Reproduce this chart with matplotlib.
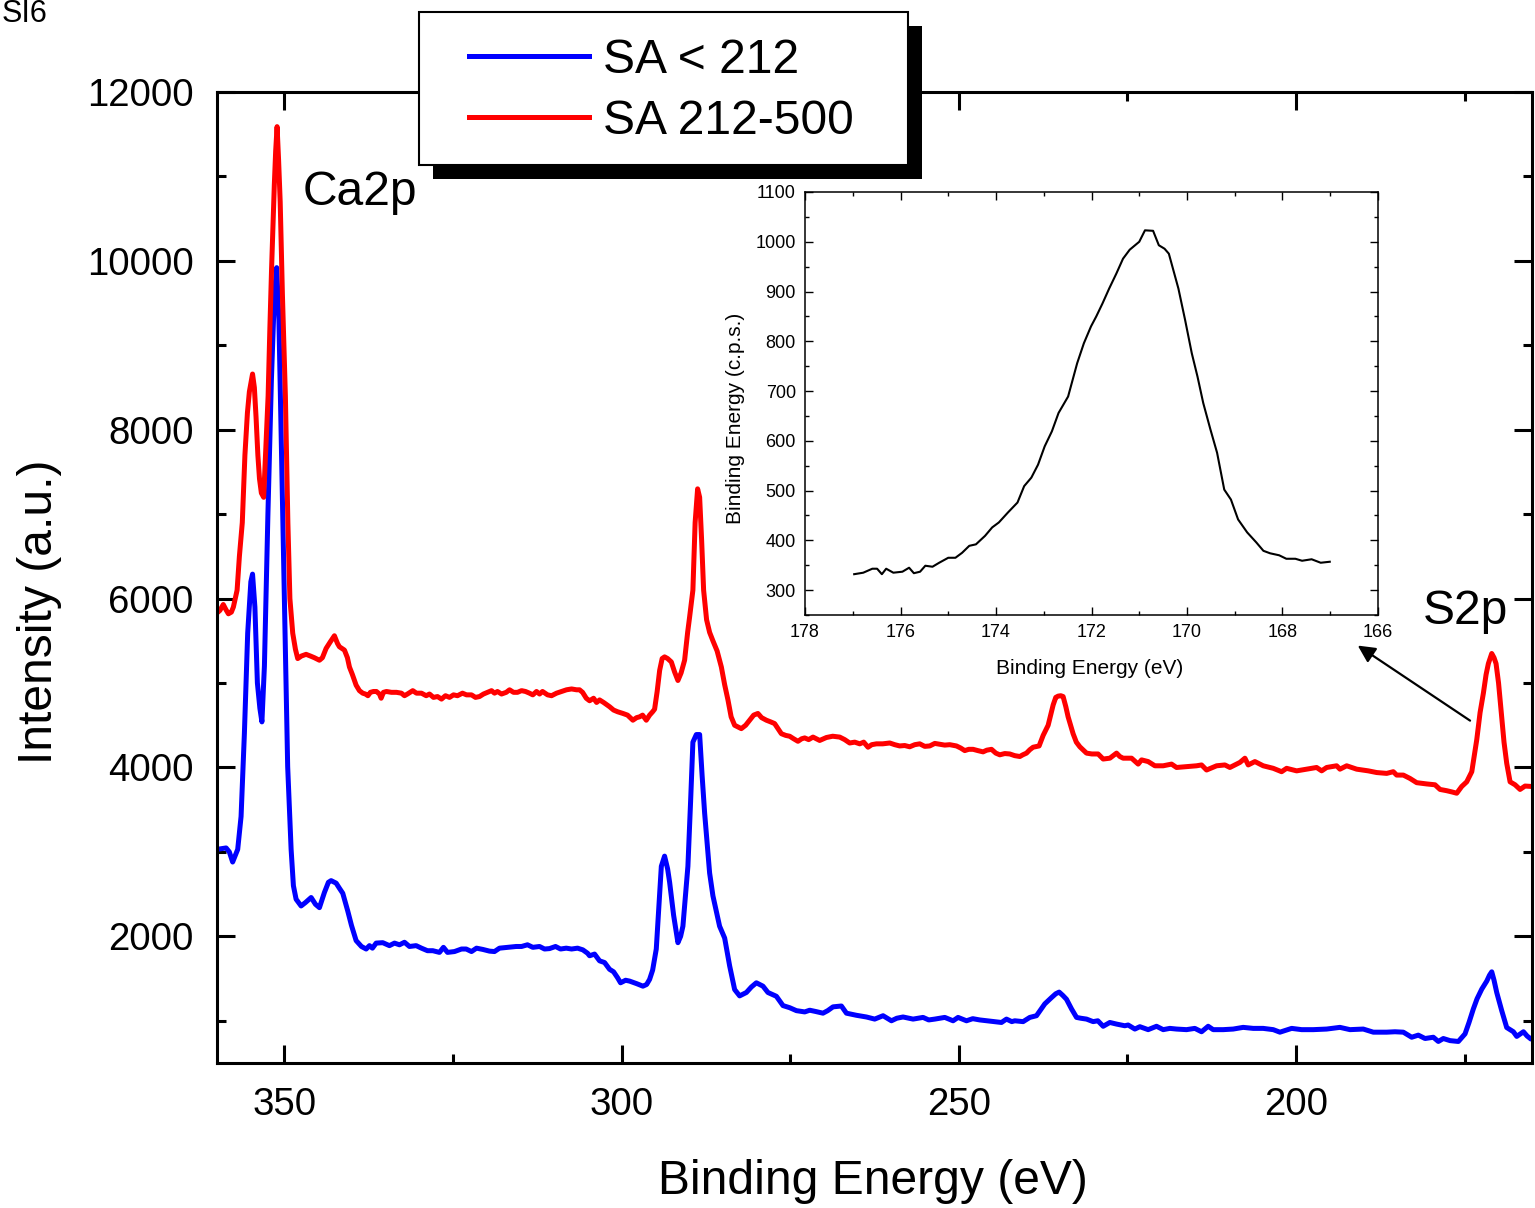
import matplotlib
matplotlib.use("Agg")
import matplotlib.pyplot as plt
from matplotlib.patches import Rectangle
from matplotlib.ticker import MultipleLocator

plt.rcParams['font.family'] = ['Liberation Sans', 'DejaVu Sans']

# ---- survey spectra: binding energy (eV) and intensity (a.u.) ----
energy_low = [
    360.0, 358.65, 358.17, 357.68, 356.93, 356.43, 355.94, 355.45, 354.98, 354.73,
    354.38, 354.01, 353.64, 353.34, 352.97, 352.45, 351.93, 351.49, 351.15, 350.82,
    350.45, 350.0, 349.52, 349.01, 348.67, 348.27, 347.53, 346.89, 346.04, 345.40,
    344.81, 344.07, 343.48, 343.08, 342.33, 341.85, 341.35, 340.61, 340.06, 339.37,
    338.58, 337.88, 337.39, 336.95, 336.40, 335.42, 334.43, 333.68, 332.94, 332.20,
    331.46, 330.47, 329.68, 328.79, 328.0, 327.01, 326.42, 325.82, 324.78, 323.74,
    323.05, 322.26, 321.52, 320.58, 319.59, 318.85, 318.11, 316.92, 315.63, 314.84,
    313.96, 313.17, 312.17, 311.43, 310.69, 309.80, 309.06, 308.21, 307.42, 306.53,
    305.75, 305.05, 304.75, 304.01, 303.27, 302.53, 301.79, 301.19, 300.60, 300.16,
    299.41, 298.82, 297.78, 296.84, 296.29, 295.85, 295.40, 294.86, 294.51, 294.11,
    293.63, 293.18, 292.88, 292.29, 291.65, 291.25, 290.91, 290.51, 290.17, 289.77,
    289.43, 288.92, 288.43, 288.06, 287.69, 286.95, 286.46, 285.47, 284.72, 283.98,
    283.24, 282.50, 281.50, 280.76, 280.02, 279.04, 278.30, 277.05, 276.07, 275.08,
    274.08, 272.85, 272.11, 271.22, 270.14, 269.44, 268.65, 267.41, 266.66, 265.18,
    263.70, 262.47, 261.23, 259.99, 259.20, 258.27, 256.78, 255.30, 254.46, 253.56,
    252.08, 250.85, 250.11, 248.86, 247.93, 246.89, 245.85, 244.91, 243.67, 242.93,
    242.14, 241.70, 240.46, 239.47, 238.48, 237.25, 236.25, 235.62, 235.12, 234.57,
    234.03, 233.28, 232.54, 231.90, 231.06, 230.08, 229.38, 228.59, 227.60, 226.61,
    225.38, 224.89, 223.89, 223.15, 221.92, 220.68, 219.69, 218.70, 217.71, 216.23,
    215.0, 214.0, 213.02, 212.28, 210.79, 209.31, 207.83, 206.34, 204.86, 203.37,
    202.38, 200.64, 199.16, 197.44, 195.45, 193.48, 191.99, 190.02, 188.53, 186.55,
    185.32, 184.08, 182.84, 181.86, 180.86, 179.63, 178.89, 178.15, 177.15, 175.92,
    174.93, 174.34, 173.70, 173.15, 172.45, 171.71, 171.30, 170.97, 170.63, 170.23,
    169.49, 168.75, 167.76, 167.26, 166.27, 165.73, 165.18, 164.99,
]
intensity_low = [
    3030, 3047, 3000, 2880, 3030, 3420, 4400, 5590, 6200, 6290,
    5900, 5000, 4700, 4540, 5200, 7000, 8600, 9600, 9920, 9300,
    7800, 5980, 4010, 3030, 2600, 2440, 2360, 2400, 2460, 2380,
    2340, 2520, 2640, 2660, 2630, 2570, 2510, 2300, 2130, 1950,
    1880, 1850, 1890, 1860, 1920, 1925, 1890, 1920, 1900, 1930,
    1880, 1890, 1860, 1830, 1830, 1810, 1870, 1810, 1820, 1850,
    1850, 1820, 1860, 1845, 1825, 1820, 1860, 1870, 1880, 1880,
    1900, 1870, 1880, 1850, 1855, 1880, 1850, 1860, 1850, 1860,
    1840, 1800, 1770, 1790, 1710, 1690, 1610, 1580, 1510, 1450,
    1480, 1470, 1440, 1410, 1430, 1490, 1600, 1850, 2300, 2830,
    2950, 2800, 2640, 2250, 1925, 2000, 2120, 2500, 2830, 3600,
    4300, 4390, 4390, 3900, 3460, 2750, 2480, 2120, 1980, 1650,
    1370, 1295, 1335, 1400, 1450, 1410, 1335, 1290, 1180, 1155,
    1120, 1105, 1125, 1110, 1090, 1120, 1165, 1175, 1090, 1065,
    1045, 1020, 1060, 1000, 1030, 1045, 1020, 1040, 1010, 1020,
    1040, 1000, 1040, 1000, 1025, 1010, 1000, 990, 980, 1020,
    990, 1000, 990, 1040, 1060, 1200, 1275, 1320, 1340, 1300,
    1255, 1140, 1040, 1030, 1020, 990, 1000, 935, 980, 961,
    941, 950, 902, 930, 895, 935, 895, 910, 902, 895,
    910, 870, 935, 895, 895, 902, 922, 910, 910, 895,
    865, 910, 895, 895, 902, 922, 895, 902, 865, 865,
    870, 865, 805, 830, 790, 805, 755, 790, 765, 755,
    845, 980, 1140, 1260, 1375, 1470, 1540, 1580, 1480, 1335,
    1120, 920, 870, 815, 870, 820, 785, 785,
]

energy_high = [
    360.0, 359.57, 359.07, 358.68, 358.31, 357.87, 357.57, 357.02, 356.68, 356.25,
    355.86, 355.49, 355.20, 354.73, 354.46, 354.21, 353.94, 353.70, 353.42, 353.08,
    352.75, 352.42, 352.16, 351.91, 351.50, 351.30, 351.09, 350.87, 350.63, 350.30,
    349.86, 349.49, 349.19, 348.77, 348.37, 348.03, 347.48, 346.79, 346.15, 345.56,
    344.81, 344.37, 343.82, 343.18, 342.59, 342.14, 341.85, 341.10, 340.66, 340.36,
    339.92, 339.37, 338.88, 338.39, 337.99, 337.62, 337.25, 336.80, 336.36, 335.91,
    335.66, 335.32, 334.87, 334.13, 333.39, 332.65, 332.20, 331.76, 330.97, 330.42,
    329.68, 328.98, 328.49, 327.90, 327.30, 326.71, 326.12, 325.52, 324.93, 324.34,
    323.60, 323.00, 322.26, 321.67, 321.08, 320.48, 319.89, 319.29, 318.85, 318.41,
    317.81, 317.11, 316.62, 316.03, 315.44, 314.84, 314.25, 313.66, 313.17, 312.62,
    312.17, 311.73, 310.98, 310.39, 309.65, 308.91, 308.17, 307.42, 306.68, 306.24,
    305.79, 305.24, 304.75, 304.16, 303.71, 303.27, 302.67, 301.79, 301.19, 300.60,
    299.81, 299.12, 298.33, 297.78, 297.33, 296.89, 296.34, 295.85, 295.40, 295.11,
    294.73, 294.36, 293.99, 293.63, 293.18, 292.63, 292.14, 291.65, 291.18, 290.66,
    290.21, 289.92, 289.43, 289.10, 288.73, 288.43, 288.14, 287.84, 287.40, 286.95,
    286.46, 285.84, 285.21, 284.72, 284.23, 283.76, 283.24, 282.25, 281.61, 281.02,
    280.42, 279.79, 279.24, 278.54, 277.90, 277.31, 276.31, 275.67, 275.08, 274.49,
    273.85, 273.30, 272.85, 272.26, 271.62, 271.12, 270.63, 269.63, 268.70, 267.66,
    266.92, 266.18, 265.43, 264.69, 264.10, 263.46, 262.91, 262.21, 261.28, 260.24,
    259.50, 258.76, 258.02, 257.28, 256.53, 255.79, 255.05, 254.31, 253.56, 252.82,
    252.08, 251.34, 250.35, 249.71, 249.12, 248.52, 247.88, 247.18, 246.40, 245.85,
    245.15, 244.51, 243.92, 243.18, 242.44, 241.70, 240.95, 240.51, 239.96, 239.47,
    238.98, 238.09, 237.49, 236.75, 236.01, 235.62, 235.27, 234.87, 234.53, 234.13,
    233.79, 233.05, 232.57, 232.05, 231.06, 230.27, 229.34, 228.59, 227.60, 226.61,
    226.12, 225.63, 224.38, 223.40, 222.90, 221.92, 220.92, 219.69, 218.45, 217.71,
    216.23, 214.74, 214.0, 213.26, 211.77, 210.54, 209.80, 208.31, 207.57, 207.08,
    206.09, 204.86, 203.37, 202.13, 201.39, 199.90, 198.42, 196.94, 196.19, 195.45,
    193.97, 193.48, 192.48, 191.0, 189.28, 188.03, 186.55, 185.57, 185.07, 184.08,
    183.09, 182.10, 180.61, 179.38, 178.64, 177.65, 176.86, 176.16, 175.42, 174.68,
    173.93, 173.19, 172.70, 172.21, 171.81, 171.47, 170.97, 170.63, 170.33, 169.96,
    169.49, 169.15, 168.75, 168.25, 167.51, 166.77, 166.03, 165.03,
]
intensity_high = [
    5830, 5860, 5930, 5870, 5820, 5840, 5900, 6100, 6500, 6900,
    7700, 8200, 8450, 8660, 8500, 8150, 7700, 7420, 7250, 7200,
    7800, 8400, 9200, 9900, 10900, 11300, 11590, 11200, 10700, 9600,
    8400, 6900, 6000, 5590, 5400, 5290, 5320, 5340, 5320, 5300,
    5270, 5300, 5410, 5490, 5560, 5470, 5430, 5390, 5300, 5190,
    5100, 4975, 4910, 4880, 4870, 4850, 4890, 4900, 4900, 4870,
    4820, 4890, 4900, 4890, 4890, 4880, 4850, 4870, 4910, 4880,
    4880, 4850, 4870, 4830, 4840, 4810, 4850, 4830, 4860, 4850,
    4880, 4860, 4860, 4830, 4840, 4870, 4890, 4910, 4880, 4900,
    4870, 4890, 4920, 4890, 4890, 4910, 4900, 4880, 4860, 4900,
    4870, 4900, 4860, 4850, 4880, 4900, 4920, 4930, 4920, 4920,
    4890, 4820, 4790, 4820, 4770, 4800, 4770, 4720, 4680, 4660,
    4640, 4620, 4560, 4590, 4600, 4620, 4560, 4620, 4660, 4690,
    4900, 5150, 5290, 5310, 5290, 5250, 5130, 5030, 5120, 5270,
    5600, 5780, 6100, 6900, 7300, 7200, 6700, 6100, 5750, 5600,
    5500, 5380, 5190, 4980, 4800, 4600, 4500, 4460, 4500, 4560,
    4620, 4640, 4590, 4560, 4540, 4520, 4400, 4380, 4370, 4340,
    4310, 4340, 4350, 4330, 4360, 4340, 4320, 4355, 4370, 4360,
    4330, 4290, 4300, 4280, 4300, 4240, 4270, 4280, 4280, 4290,
    4270, 4255, 4260, 4245, 4270, 4280, 4250, 4255, 4285, 4275,
    4265, 4270, 4255, 4230, 4200, 4215, 4215, 4200, 4185, 4205,
    4215, 4170, 4150, 4165, 4160, 4140, 4130, 4150, 4170, 4210,
    4240, 4255, 4380, 4500, 4740, 4830, 4845, 4850, 4840, 4720,
    4600, 4400, 4300, 4245, 4170, 4160, 4160, 4100, 4110, 4170,
    4130, 4110, 4110, 4040, 4090, 4070, 4020, 4020, 4040, 4000,
    4010, 4020, 4030, 3970, 4020, 4030, 4000, 4060, 4110, 4030,
    4070, 4020, 3990, 3950, 3990, 3960, 3980, 4000, 3960, 4000,
    4020, 3980, 4020, 3980, 3960, 3940, 3930, 3950, 3910, 3910,
    3870, 3820, 3805, 3795, 3740, 3725, 3710, 3695, 3775, 3830,
    3950, 4330, 4650, 4880, 5100, 5230, 5350, 5300, 5230, 5000,
    4600, 4300, 4050, 3830, 3795, 3740, 3780, 3775,
]

# ---- high-resolution S2p region (inset) ----
energy_s2p = [
    176.97, 176.78, 176.59, 176.49, 176.39, 176.30, 176.15, 175.96, 175.82, 175.72,
    175.59, 175.48, 175.33, 175.19, 175.00, 174.85, 174.71, 174.56, 174.42, 174.23,
    174.08, 173.94, 173.75, 173.55, 173.41, 173.26, 173.12, 172.98, 172.83, 172.69,
    172.49, 172.30, 172.16, 172.01, 171.90, 171.77, 171.63, 171.48, 171.34, 171.20,
    171.00, 170.88, 170.71, 170.59, 170.47, 170.38, 170.18, 170.04, 169.90, 169.78,
    169.66, 169.51, 169.37, 169.22, 169.08, 168.93, 168.74, 168.55, 168.40, 168.26,
    168.07, 167.92, 167.73, 167.59, 167.39, 167.20, 167.01,
]
counts_s2p = [
    332, 335, 343, 343, 332, 343, 335, 337, 345, 334,
    337, 349, 347, 355, 365, 365, 375, 389, 392, 409,
    426, 436, 456, 476, 509, 526, 552, 589, 619, 656,
    689, 756, 796, 830, 850, 876, 906, 936, 966, 984,
    1000, 1023, 1022, 993, 986, 976, 906, 843, 776, 729,
    676, 623, 576, 502, 482, 442, 416, 396, 379, 374,
    370, 363, 363, 359, 362, 355, 357,
]

series_labels = ['SA < 212', 'SA 212-500']
series_colors = ['#0000ff', '#ff0000']

W, H = 1535, 1208
fig = plt.figure(figsize=(W / 100, H / 100), dpi=100)

# ---------------- main survey axes ----------------
ax = fig.add_axes([217 / W, 1 - 1063 / H, 1315 / W, 971 / H])
ln_low, = ax.plot(energy_low, intensity_low, color=series_colors[0], lw=3.6,
                  solid_joinstyle='round', label=series_labels[0])
ln_high, = ax.plot(energy_high, intensity_high, color=series_colors[1], lw=3.6,
                   solid_joinstyle='round', label=series_labels[1])

ax.set_xlim(360, 165)
ax.set_ylim(500, 12000)
ax.xaxis.set_major_locator(MultipleLocator(50))
ax.xaxis.set_minor_locator(MultipleLocator(25))
ax.yaxis.set_major_locator(MultipleLocator(2000))
ax.yaxis.set_minor_locator(MultipleLocator(1000))
ax.tick_params(which='both', direction='in', top=True, right=True, width=2.2,
               labelsize=27.6, pad=17)
ax.tick_params(which='major', length=13)
ax.tick_params(which='minor', length=6.5)
for s in ax.spines.values():
    s.set_linewidth(2.2)

ax.set_xlabel('Binding Energy (eV)', fontsize=34.6)
ax.set_ylabel('Intensity (a.u.)', fontsize=34.6)
ax.xaxis.set_label_coords(0.4989, -0.0989)
ax.yaxis.set_label_coords(-0.1179, 0.4645)

ax.text(0.0654, 0.8836, 'Ca2p', transform=ax.transAxes, fontsize=34.6,
        va='baseline', ha='left')
ax.text(0.9170, 0.4521, 'S2p', transform=ax.transAxes, fontsize=34.6,
        va='baseline', ha='left')
ax.annotate('', xy=(0.8675, 0.4299), xycoords='axes fraction',
            xytext=(0.9529, 0.3526), textcoords='axes fraction',
            arrowprops=dict(arrowstyle='-|>', color='black', lw=1.6,
                            mutation_scale=26, shrinkA=0, shrinkB=0))

# ---------------- inset: S2p detail ----------------
axi = fig.add_axes([805 / W, 1 - 615 / H, 573 / W, 423 / H], zorder=2)
axi.plot(energy_s2p, counts_s2p, color='black', lw=1.5)
axi.set_xlim(178, 166)
axi.set_ylim(250, 1100)
axi.xaxis.set_major_locator(MultipleLocator(2))
axi.xaxis.set_minor_locator(MultipleLocator(1))
axi.yaxis.set_major_locator(MultipleLocator(100))
axi.yaxis.set_minor_locator(MultipleLocator(50))
axi.set_yticks(range(300, 1101, 100))
axi.tick_params(which='both', direction='in', top=True, right=True, width=1.0,
                labelsize=13, pad=6.5)
axi.tick_params(which='major', length=5.5)
axi.tick_params(which='minor', length=3)
for s in axi.spines.values():
    s.set_linewidth(1.1)
axi.set_xlabel('Binding Energy (eV)', fontsize=15)
axi.set_ylabel('Binding Energy (c.p.s.)', fontsize=15)
axi.xaxis.set_label_coords(0.4974, -0.105)
axi.yaxis.set_label_coords(-0.105, 0.465)

# ---------------- legend with drop shadow ----------------
shadow = Rectangle((433 / W, 1 - 179 / H), 489 / W, 153 / H, transform=fig.transFigure,
                   facecolor='black', edgecolor='none', zorder=3)
frame = Rectangle((419 / W, 1 - 165 / H), 489 / W, 153 / H, transform=fig.transFigure,
                  facecolor='white', edgecolor='black', linewidth=1.5, zorder=3.1)
fig.add_artist(shadow)
fig.add_artist(frame)
leg = fig.legend(handles=[ln_low, ln_high], labels=series_labels,
                 loc='upper left', bbox_to_anchor=(469 / W, 1 - 38 / H),
                 frameon=False, fontsize=34.6, borderpad=0, borderaxespad=0,
                 handlelength=2.5, handletextpad=0.29, labelspacing=0.33)
leg.set_zorder(4)

fig.text(2 / W, 1 - 22 / H, 'SI6', fontsize=22, va='baseline', ha='left')

fig.savefig('out.png', dpi=100)
